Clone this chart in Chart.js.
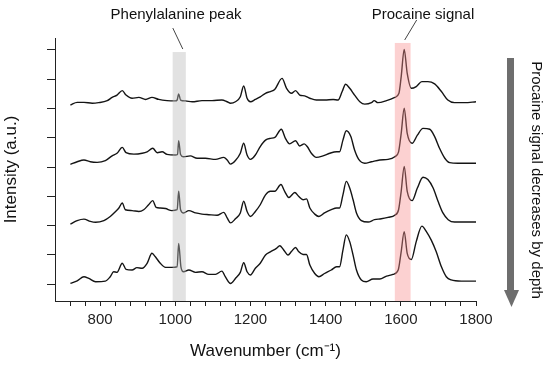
<!DOCTYPE html>
<html>
<head>
<meta charset="utf-8">
<script src="https://cdn.jsdelivr.net/npm/chart.js@4.4.1/dist/chart.umd.min.js"></script>
<style>
  html, body { margin: 0; padding: 0; background: #fff; }
</style>
</head>
<body>
<canvas id="ramanChart" width="550" height="366"></canvas>
<script>
// Raman spectra at four depths (top = shallowest), intensity relative to each baseline
const wn1 = [721, 739, 757, 779, 796, 819, 832, 845, 859, 869,
  885, 903, 921, 938, 956, 978, 1000, 1005, 1009, 1014,
  1027, 1045, 1071, 1098, 1124, 1138, 1147, 1160, 1173, 1182,
  1191, 1200, 1213, 1226, 1240, 1253, 1265, 1284, 1296, 1309,
  1320, 1331, 1344, 1358, 1375, 1398, 1420, 1433, 1444, 1453,
  1464, 1477, 1491, 1504, 1522, 1529, 1539, 1562, 1584, 1595,
  1601, 1609, 1617, 1628, 1641, 1656, 1672, 1690, 1708, 1725,
  1743, 1770, 1800];
const int1 = [0.12, 0.21, 0.21, 0.18, 0.20, 0.27, 0.38, 0.46, 0.61, 0.46,
  0.35, 0.38, 0.31, 0.38, 0.31, 0.27, 0.26, 0.29, 0.50, 0.29,
  0.26, 0.23, 0.27, 0.27, 0.29, 0.23, 0.18, 0.23, 0.40, 0.77,
  0.35, 0.23, 0.31, 0.40, 0.52, 0.58, 0.66, 1.03, 0.69, 0.52,
  0.61, 0.46, 0.43, 0.35, 0.29, 0.29, 0.31, 0.29, 0.58, 0.83,
  0.69, 0.46, 0.23, 0.15, 0.20, 0.27, 0.20, 0.27, 0.38, 0.52,
  1.09, 2.02, 1.20, 0.69, 0.75, 0.92, 0.92, 0.84, 0.58, 0.29,
  0.20, 0.20, 0.23];

const wn2 = [721, 739, 757, 774, 792, 814, 832, 845, 859, 869,
  890, 912, 925, 940, 952, 965, 978, 1000, 1006, 1009,
  1014, 1022, 1040, 1058, 1080, 1107, 1129, 1138, 1147, 1160,
  1173, 1182, 1191, 1200, 1213, 1226, 1240, 1253, 1265, 1282,
  1293, 1304, 1320, 1331, 1343, 1351, 1362, 1375, 1393, 1411,
  1429, 1437, 1446, 1455, 1467, 1477, 1488, 1504, 1522, 1544,
  1566, 1584, 1594, 1601, 1609, 1617, 1630, 1644, 1659, 1677,
  1690, 1703, 1717, 1730, 1752, 1800];
const int2 = [0.09, 0.18, 0.24, 0.18, 0.16, 0.22, 0.38, 0.47, 0.67, 0.49,
  0.44, 0.47, 0.52, 0.64, 0.49, 0.52, 0.43, 0.41, 0.43, 0.90,
  0.43, 0.35, 0.38, 0.30, 0.30, 0.26, 0.33, 0.24, 0.10, 0.22,
  0.47, 0.81, 0.41, 0.26, 0.41, 0.70, 0.92, 0.98, 1.01, 1.29,
  0.98, 0.79, 0.90, 0.72, 0.79, 0.70, 0.47, 0.33, 0.38, 0.47,
  0.52, 0.52, 0.92, 1.24, 1.04, 0.58, 0.26, 0.13, 0.18, 0.24,
  0.26, 0.35, 0.52, 1.15, 2.01, 1.15, 0.81, 1.09, 1.32, 1.29,
  1.04, 0.64, 0.30, 0.15, 0.13, 0.13];

const wn3 = [721, 739, 757, 774, 788, 810, 827, 841, 850, 859,
  867, 885, 903, 916, 929, 940, 949, 960, 974, 991,
  1005, 1009, 1014, 1022, 1036, 1054, 1071, 1089, 1111, 1129,
  1138, 1147, 1160, 1173, 1182, 1191, 1200, 1213, 1226, 1240,
  1253, 1265, 1281, 1291, 1302, 1318, 1328, 1340, 1349, 1358,
  1371, 1382, 1397, 1415, 1429, 1437, 1446, 1455, 1464, 1473,
  1482, 1495, 1513, 1530, 1548, 1566, 1584, 1594, 1601, 1609,
  1617, 1630, 1644, 1659, 1672, 1686, 1699, 1712, 1726, 1743,
  1770, 1800];
const int3 = [0.05, 0.17, 0.22, 0.14, 0.11, 0.17, 0.31, 0.48, 0.60, 0.77,
  0.54, 0.51, 0.48, 0.54, 0.71, 0.85, 0.62, 0.60, 0.58, 0.51,
  0.54, 1.17, 0.54, 0.43, 0.51, 0.43, 0.39, 0.37, 0.35, 0.45,
  0.26, 0.09, 0.23, 0.43, 0.83, 0.48, 0.31, 0.48, 0.71, 1.05,
  1.17, 1.17, 1.40, 1.17, 0.96, 1.13, 1.00, 0.88, 0.91, 0.60,
  0.39, 0.31, 0.43, 0.54, 0.60, 0.60, 1.05, 1.51, 1.28, 0.88,
  0.43, 0.17, 0.12, 0.20, 0.23, 0.28, 0.35, 0.54, 1.17, 2.02,
  1.17, 0.85, 1.28, 1.65, 1.57, 1.28, 0.83, 0.43, 0.20, 0.12,
  0.12, 0.12];

const wn4 = [721, 739, 757, 770, 788, 814, 827, 836, 845, 859,
  869, 885, 898, 912, 925, 938, 947, 960, 974, 991,
  1005, 1009, 1015, 1022, 1036, 1054, 1071, 1089, 1107, 1124,
  1133, 1147, 1160, 1173, 1182, 1191, 1200, 1213, 1226, 1240,
  1253, 1269, 1278, 1287, 1300, 1309, 1320, 1328, 1340, 1349,
  1358, 1371, 1382, 1397, 1415, 1429, 1437, 1446, 1455, 1464,
  1473, 1482, 1495, 1508, 1526, 1544, 1562, 1579, 1593, 1601,
  1609, 1617, 1628, 1641, 1656, 1668, 1681, 1694, 1708, 1721,
  1734, 1761, 1800];
const int4 = [0.02, 0.11, 0.25, 0.19, 0.08, 0.10, 0.25, 0.42, 0.40, 0.71,
  0.50, 0.48, 0.56, 0.54, 0.71, 1.05, 0.93, 0.71, 0.57, 0.57,
  0.59, 1.39, 0.59, 0.42, 0.48, 0.40, 0.42, 0.33, 0.33, 0.44,
  0.25, 0.02, 0.19, 0.40, 0.73, 0.42, 0.31, 0.54, 0.71, 0.99,
  1.10, 1.22, 1.31, 1.19, 0.99, 1.11, 1.25, 1.11, 1.01, 1.01,
  0.65, 0.36, 0.25, 0.36, 0.48, 0.59, 0.59, 1.16, 1.68, 1.45,
  0.99, 0.48, 0.14, 0.08, 0.17, 0.17, 0.27, 0.33, 0.48, 1.11,
  1.79, 1.05, 0.84, 1.45, 1.98, 1.79, 1.50, 1.11, 0.59, 0.25,
  0.14, 0.10, 0.10];

const baselineOffsets = [6, 4, 2, 0];
const yTickValues = [0, 1, 2, 3, 4, 5, 6, 7, 8];
const xLabelValues = [800, 1000, 1200, 1400, 1600, 1800];
const xMinorStart = 720, xMinorStep = 40;

// highlighted regions: [from, to, top]
const pheBand = [993, 1028, 7.93];
const procBand = [1584, 1626, 8.24];

const FONT = "'Liberation Sans', Arial, sans-serif";
Chart.defaults.font.family = FONT;
Chart.defaults.color = '#111';

const traces = [[wn1, int1], [wn2, int2], [wn3, int3], [wn4, int4]];

const overlay = {
  id: 'overlay',
  afterDatasetsDraw(chart) {
    const { ctx, chartArea, scales: { x, y } } = chart;
    ctx.save();
    // bands drawn on top of the lines, semi-transparent
    [[pheBand, 'rgba(185,185,185,0.42)'], [procBand, 'rgba(248,140,140,0.40)']].forEach(([b, col]) => {
      const x0 = x.getPixelForValue(b[0]);
      const x1 = x.getPixelForValue(b[1]);
      const yt = y.getPixelForValue(b[2]);
      ctx.fillStyle = col;
      ctx.fillRect(x0, yt, x1 - x0, chartArea.bottom - yt);
    });
    ctx.restore();
  },
  afterDraw(chart) {
    const { ctx, scales: { x, y } } = chart;
    ctx.save();
    ctx.font = '15px ' + FONT;
    ctx.fillStyle = '#111';
    ctx.textAlign = 'center';
    ctx.textBaseline = 'alphabetic';
    ctx.fillText('Phenylalanine peak', 176, 19);
    ctx.fillText('Procaine signal', 423, 19);

    // leader lines
    ctx.strokeStyle = '#444';
    ctx.lineWidth = 1;
    const gx = x.getPixelForValue(pheBand[1]) - 3, gy = y.getPixelForValue(pheBand[2]) - 3;
    ctx.beginPath(); ctx.moveTo(gx - 10, gy - 21); ctx.lineTo(gx, gy); ctx.stroke();
    const px = x.getPixelForValue((procBand[0] + procBand[1]) / 2) + 2, py = y.getPixelForValue(procBand[2]) - 3;
    ctx.beginPath(); ctx.moveTo(px + 12, py - 20); ctx.lineTo(px, py); ctx.stroke();

    // depth arrow
    ctx.fillStyle = '#6e6e6e';
    ctx.fillRect(507, 58, 7, 233);
    ctx.beginPath();
    ctx.moveTo(504, 290); ctx.lineTo(519, 290); ctx.lineTo(511.5, 307); ctx.closePath();
    ctx.fill();

    // side caption
    ctx.fillStyle = '#111';
    ctx.translate(536, 180);
    ctx.rotate(Math.PI / 2);
    ctx.textBaseline = 'middle';
    ctx.fillText('Procaine signal decreases by depth', 0, 0);
    ctx.restore();
  }
};

new Chart(document.getElementById('ramanChart'), {
  type: 'line',
  data: {
    datasets: traces.map(([wn, ints], k) => ({
      label: 'Depth ' + (k + 1),
      data: wn.map((w, i) => ({ x: w, y: ints[i] + baselineOffsets[k] })),
      borderColor: '#141414',
      borderWidth: 1.4,
      pointRadius: 0,
      fill: false,
      cubicInterpolationMode: 'monotone'
    }))
  },
  options: {
    responsive: false,
    animation: false,
    events: [],
    layout: { padding: { left: 0, right: 74, top: 38, bottom: 0 } },
    plugins: {
      legend: { display: false },
      tooltip: { enabled: false }
    },
    scales: {
      x: {
        type: 'linear',
        min: 680,
        max: 1800,
        afterBuildTicks: s => {
          const t = [];
          for (let v = xMinorStart; v <= 1800; v += xMinorStep) t.push({ value: v });
          s.ticks = t;
        },
        afterFit: s => { s.height = 65; },
        ticks: {
          autoSkip: false,
          maxRotation: 0,
          padding: 5,
          color: '#222',
          font: { size: 15 },
          callback: v => xLabelValues.includes(v) ? String(v) : ''
        },
        grid: { drawOnChartArea: false, tickLength: 5, color: '#222' },
        border: { color: '#222', width: 1 },
        title: {
          display: true,
          text: 'Wavenumber (cm\u207B\u00B9)',
          color: '#111',
          font: { size: 17 },
          padding: { top: 0, bottom: 4 }
        }
      },
      y: {
        min: -0.58,
        max: 8.41,
        afterBuildTicks: s => { s.ticks = yTickValues.map(v => ({ value: v })); },
        afterFit: s => { s.width = 55; },
        ticks: { display: false },
        grid: { drawOnChartArea: false, tickLength: 8, color: '#222' },
        border: { color: '#222', width: 1 },
        title: {
          display: true,
          text: 'Intensity (a.u.)',
          color: '#111',
          font: { size: 17 },
          padding: { top: 1, bottom: 0 }
        }
      }
    }
  },
  plugins: [overlay]
});
</script>
</body>
</html>
